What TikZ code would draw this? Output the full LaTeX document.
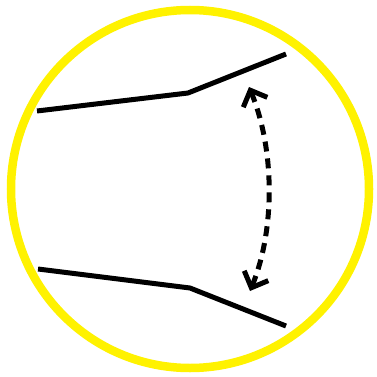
\documentclass[tikz,border=0pt]{standalone}
\usetikzlibrary{arrows.meta}
\begin{document}
\begin{tikzpicture}[x=1pt,y=-1pt,
  wall/.style={line width=5pt},
  ring/.style={draw=yellow,line width=8.5pt},
  flex/.style={line width=5pt,dash pattern=on 10pt off 7pt,
    {Straight Barb[length=13pt,width=26pt,line width=5pt]}-{Straight Barb[length=13pt,width=26pt,line width=5pt]}}]
\useasboundingbox (0,0) rectangle (377,377);
\node[ring,circle,minimum size=358pt,inner sep=0pt] (c) at (190,189) {};
\coordinate (a1) at (37,111);
\coordinate (a2) at (188,93);
\coordinate (a3) at (286,54);
\coordinate (b1) at (38,269);
\coordinate (b2) at (190,288);
\coordinate (b3) at (286,326);
\draw[wall] (a1) -- (a2) -- (a3);
\draw[wall] (b1) -- (b2) -- (b3);
\coordinate (t) at (249,87);
\coordinate (u) at (250,291);
\draw[flex] (t) .. controls (275,150) and (275,230) .. (u);
\end{tikzpicture}
\end{document}
